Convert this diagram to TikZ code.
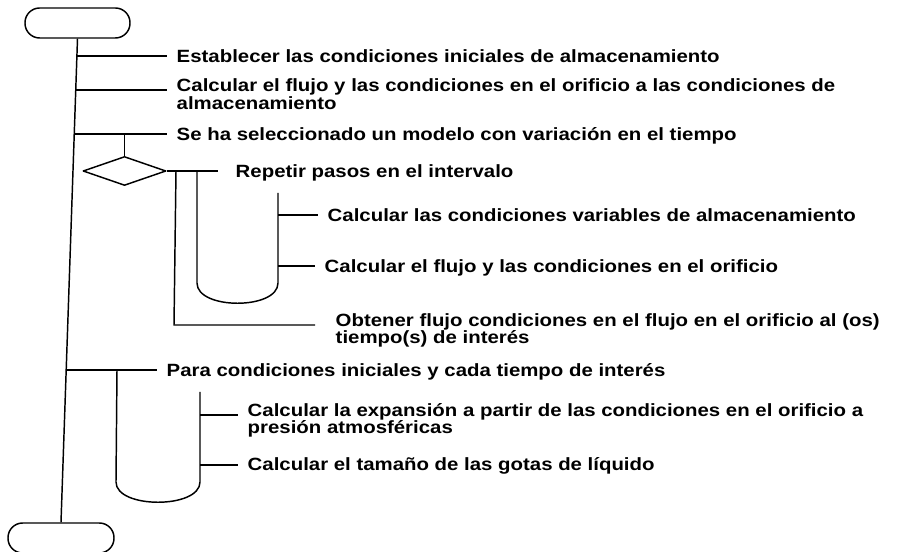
\documentclass[tikz,border=0pt]{standalone}
\usepackage{fontspec}
\setmainfont{Liberation Sans}[FakeStretch=1.15]
\usetikzlibrary{shapes.geometric, calc}
\tikzset{
  every picture/.style={line width=1.1pt, line join=round},
  term/.style={draw, rounded corners=11pt, minimum width=78.75pt, minimum height=22.5pt, inner sep=0pt},
  decision/.style={draw, diamond, aspect=2.9, minimum width=62.25pt, minimum height=21.75pt, inner sep=0pt},
  stepnote/.style={anchor=base west, align=left, inner xsep=6.75pt, inner ysep=0pt,
    font=\fontsize{13.3pt}{13.4pt}\selectfont\bfseries},
}
\begin{document}
\begin{tikzpicture}[x=0.75pt, y=-0.75pt]
  \useasboundingbox (0,0) rectangle (901,552);
  % terminals and spine
  \node[term] (start) at (77.5,23) {};
  \node[term, minimum width=79.5pt] (stop) at (61,538) {};
  \draw (start.south) -- (stop.north);
  \foreach \n/\y in {b1/56, b2/90, b3/134, b4/370}
    \coordinate (\n) at ($(start.south)!(70,\y)!(stop.north)$);
  % first steps (two-line notes sit on their last baseline)
  \node[stepnote] (t1) at (167,62.5) {Establecer las condiciones iniciales de almacenamiento};
  \node[stepnote] (t2) at (167,109.4) {Calcular el flujo y las condiciones en el orificio a las condiciones de\\almacenamiento};
  \node[stepnote] (t3) at (167,140.5) {Se ha seleccionado un modelo con variación en el tiempo};
  \foreach \n in {1,2,3} \draw (b\n) -- (b\n -| t\n.west);
  % decision and time loop
  \node[decision] (dec) at (124.5,171) {};
  \draw (dec.north |- b3) -- (dec.north);
  \node[stepnote, inner xsep=12.75pt] (t4) at (218,177.5) {Repetir pasos en el intervalo};
  \draw (dec.east) -- (dec.east -| t4.west);
  \node[stepnote, inner xsep=15pt] (t7) at (315,343.9) {Obtener flujo condiciones en el flujo en el orificio al (os)\\tiempo(s) de interés};
  \coordinate (lp1) at (176,171);
  \coordinate (lp2) at (174,325);
  \draw (lp1) -- (lp2) -- (lp2 -| t7.west);
  \coordinate (u1) at (197,171);
  \coordinate (u2) at (278,193);
  \draw (u1) -- (197,283) .. controls (197,310) and (278,310) .. (278,283) -- (u2);
  \node[stepnote] (t5) at (318,221.5) {Calcular las condiciones variables de almacenamiento};
  \node[stepnote] (t6) at (315,272.5) {Calcular el flujo y las condiciones en el orificio};
  \coordinate (r5) at (278,215);
  \coordinate (r6) at (278,266);
  \foreach \n in {5,6} \draw (r\n) -- (r\n -| t\n.west);
  % expansion loop
  \node[stepnote] (t8) at (157,376.5) {Para condiciones iniciales y cada tiempo de interés};
  \draw (b4) -- (b4 -| t8.west);
  \coordinate (v1) at (117,370);
  \coordinate (v2) at (200,392);
  \draw (v1) -- (116,482) .. controls (116,509) and (200,509) .. (200,482) -- (v2);
  \node[stepnote] (t9) at (238,433.9) {Calcular la expansión a partir de las condiciones en el orificio a\\presión atmosféricas};
  \node[stepnote] (t10) at (238,471) {Calcular el tamaño de las gotas de líquido};
  \coordinate (r9) at (200,415);
  \coordinate (r10) at (200,465);
  \foreach \n in {9,10} \draw (r\n) -- (r\n -| t\n.west);
\end{tikzpicture}
\end{document}
